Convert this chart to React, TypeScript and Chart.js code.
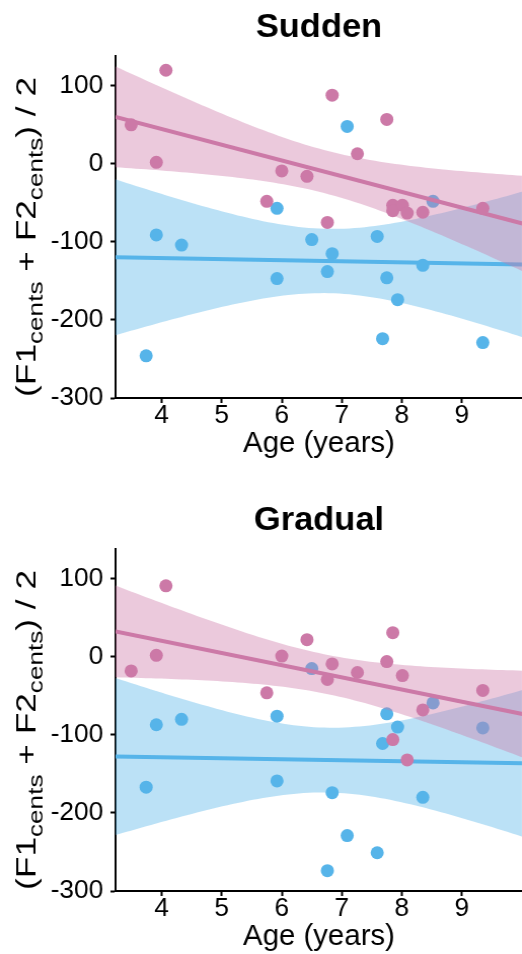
import { useEffect, useRef } from 'react';
import { Chart, registerables } from 'chart.js';

Chart.register(...registerables);

// ---- data -------------------------------------------------------------
// Age in years and (F1 + F2) / 2 shift in cents, one array per group and condition.
const suddenPinkAge = [3.49, 4.07, 3.91, 6.84, 7.75, 7.26, 6.0, 6.42, 5.75, 6.76, 7.85, 7.85, 8.01, 8.09, 8.35, 9.35];
const suddenPinkValue = [50, 120, 2, 88, 57, 13, -9, -16, -48, -75, -53, -60, -53, -63, -62, -57];
const suddenBlueAge = [7.09, 5.92, 8.52, 3.91, 4.33, 6.5, 7.59, 6.84, 6.76, 5.92, 7.75, 8.35, 7.93, 7.68, 9.35, 3.74];
const suddenBlueValue = [48, -57, -48, -91, -104, -97, -93, -115, -138, -147, -146, -130, -174, -224, -229, -246];

const gradualPinkAge = [3.49, 4.07, 3.91, 6.42, 6.0, 6.84, 6.76, 7.26, 7.85, 7.75, 8.01, 5.75, 8.35, 9.35, 7.85, 8.09];
const gradualPinkValue = [-18, 91, 2, 22, 1, -9, -29, -20, 31, -6, -24, -46, -68, -43, -106, -132];
const gradualBlueAge = [6.5, 8.52, 5.92, 7.75, 3.91, 4.33, 7.93, 9.35, 7.68, 3.74, 5.92, 6.84, 8.35, 7.09, 7.59, 6.76];
const gradualBlueValue = [-15, -59, -76, -73, -87, -80, -90, -91, -111, -167, -159, -174, -180, -229, -251, -274];

const xTicks = [4, 5, 6, 7, 8, 9];
const yTicks = [-300, -200, -100, 0, 100];
const panelTitles = ['Sudden', 'Gradual'];

// ---- styling ------------------------------------------------------------
const PINK = '#CC79A7';
const BLUE = '#56B4E9';
const PINK_FILL = 'rgba(204,121,167,0.4)';
const BLUE_FILL = 'rgba(86,180,233,0.4)';
const FONT = '"Liberation Sans", Arial, Helvetica, sans-serif';

const X_MIN = 3.23;
const X_MAX = 10.01;
const Y_MIN = -300;
const Y_MAX = 138.5;

const W = 522;
const H = 461;
const PLOT_LEFT = 114;
const PLOT_BOTTOM = 398;

// two-sided 95% t quantile for n - 2 = 14 degrees of freedom
const T_975 = 2.1448;
const FIT_STEPS = 80;

// ordinary least squares fit with the confidence band of the mean
function linearFit(xs: number[], ys: number[]) {
  const n = xs.length;
  const mx = xs.reduce((a, b) => a + b, 0) / n;
  const my = ys.reduce((a, b) => a + b, 0) / n;
  let sxx = 0;
  let sxy = 0;
  for (let i = 0; i < n; i++) {
    sxx += (xs[i] - mx) ** 2;
    sxy += (xs[i] - mx) * (ys[i] - my);
  }
  const slope = sxy / sxx;
  const intercept = my - slope * mx;
  let sse = 0;
  for (let i = 0; i < n; i++) sse += (ys[i] - intercept - slope * xs[i]) ** 2;
  const sigma = Math.sqrt(sse / (n - 2));
  const predict = (x: number) => intercept + slope * x;
  const half = (x: number) => T_975 * sigma * Math.sqrt(1 / n + (x - mx) ** 2 / sxx);
  return { predict, half };
}

function groupDatasets(ages: number[], values: number[], color: string, fill: string, base: number) {
  const fit = linearFit(ages, values);
  const lower: { x: number; y: number }[] = [];
  const upper: { x: number; y: number }[] = [];
  for (let i = 0; i <= FIT_STEPS; i++) {
    const x = X_MIN + ((X_MAX - X_MIN) * i) / FIT_STEPS;
    lower.push({ x, y: fit.predict(x) - fit.half(x) });
    upper.push({ x, y: fit.predict(x) + fit.half(x) });
  }
  const band = { showLine: true, pointRadius: 0, borderWidth: 0, borderColor: 'transparent', tension: 0 };
  return [
    { ...band, data: lower, fill: false, order: base + 2 },
    { ...band, data: upper, fill: '-1', backgroundColor: fill, order: base + 2 },
    {
      data: [X_MIN, X_MAX].map((x) => ({ x, y: fit.predict(x) })),
      showLine: true,
      pointRadius: 0,
      borderColor: color,
      borderWidth: 4,
      order: base + 1,
    },
    {
      data: ages.map((x, i) => ({ x, y: values[i] })),
      pointRadius: 6.5,
      pointBackgroundColor: color,
      pointBorderWidth: 0,
      pointBorderColor: 'transparent',
      order: base,
    },
  ];
}

// rotated y-axis title with subscripts
const yTitlePlugin = {
  id: 'formantTitle',
  afterDraw(chart: any) {
    const { ctx, chartArea } = chart;
    const pieces = [
      { text: '(F1', sub: false },
      { text: 'cents', sub: true },
      { text: ' + F2', sub: false },
      { text: 'cents', sub: true },
      { text: ') / 2', sub: false },
    ];
    const mainFont = `27px ${FONT}`;
    const subFont = `20px ${FONT}`;
    ctx.save();
    let total = 0;
    const widths = pieces.map((p) => {
      ctx.font = p.sub ? subFont : mainFont;
      const w = ctx.measureText(p.text).width;
      total += w;
      return w;
    });
    const span = 320;
    const k = span / total;
    ctx.translate(35, (chartArea.top + chartArea.bottom) / 2 + 10);
    ctx.rotate(-Math.PI / 2);
    ctx.scale(k, 1);
    ctx.fillStyle = '#000';
    ctx.textBaseline = 'alphabetic';
    ctx.textAlign = 'left';
    let x = -total / 2;
    pieces.forEach((p, i) => {
      ctx.font = p.sub ? subFont : mainFont;
      ctx.fillText(p.text, x, p.sub ? 7 : 0);
      x += widths[i];
    });
    ctx.restore();
  },
};

function Panel(props: { title: string; top: number; pinkAge: number[]; pinkValue: number[]; blueAge: number[]; blueValue: number[] }) {
  const ref = useRef<HTMLCanvasElement>(null);
  useEffect(() => {
    const canvas = ref.current as HTMLCanvasElement;
    const datasets = [
      ...groupDatasets(props.pinkAge, props.pinkValue, PINK, PINK_FILL, 0),
      ...groupDatasets(props.blueAge, props.blueValue, BLUE, BLUE_FILL, 3),
    ];
    const axisCommon = {
      grid: { display: true, drawOnChartArea: false, drawTicks: true, tickLength: 5, tickWidth: 2, tickColor: '#000' },
      border: { display: true, color: '#000', width: 2 },
    };
    const chart = new Chart(canvas, {
      type: 'scatter',
      data: { datasets: datasets as any },
      options: {
        animation: false,
        responsive: false,
        events: [],
        layout: { padding: 0 },
        plugins: {
          legend: { display: false },
          tooltip: { enabled: false },
          filler: { drawTime: 'beforeDatasetDraw' },
          title: {
            display: true,
            text: props.title,
            fullSize: false,
            color: '#000',
            font: { family: FONT, size: 34, weight: 'bold' },
            padding: { top: 7, bottom: 8 },
          },
        } as any,
        scales: {
          x: {
            type: 'linear',
            min: X_MIN,
            max: X_MAX,
            z: 1,
            ...axisCommon,
            afterBuildTicks: (s: any) => {
              s.ticks = xTicks.map((v) => ({ value: v }));
            },
            afterFit: (s: any) => {
              s.height = H - PLOT_BOTTOM;
            },
            ticks: {
              color: '#000',
              padding: 0,
              font: { family: FONT, size: 26, lineHeight: 1 },
              callback: (v: any) => String(v),
            },
            title: {
              display: true,
              text: 'Age (years)',
              color: '#000',
              font: { family: FONT, size: 29 },
              padding: { top: 0, bottom: 0 },
            },
          },
          y: {
            type: 'linear',
            min: Y_MIN,
            max: Y_MAX,
            z: 1,
            ...axisCommon,
            afterBuildTicks: (s: any) => {
              s.ticks = yTicks.map((v) => ({ value: v }));
            },
            afterFit: (s: any) => {
              s.width = PLOT_LEFT;
            },
            ticks: {
              color: '#000',
              padding: 7,
              font: { family: FONT, size: 26 },
              callback: (v: any) => String(v),
            },
          },
        },
      } as any,
      plugins: [yTitlePlugin],
    });
    // the plot panel runs to the right edge of the page; widen the canvas by
    // whatever room the layout keeps for the last x tick label
    const spare = W - chart.chartArea.right;
    if (spare > 0.5) {
      const wide = Math.round(W + spare);
      chart.resize(wide, H);
      canvas.style.width = wide + 'px';
      canvas.style.height = H + 'px';
    }
    return () => chart.destroy();
  }, []);
  return (
    <canvas
      ref={ref}
      width={W}
      height={H}
      style={{ position: 'absolute', left: 0, top: props.top, width: W, height: H }}
    />
  );
}

export default function App() {
  return (
    <div style={{ position: 'absolute', left: 0, top: 0, width: W, height: 954, background: '#fff', overflow: 'hidden' }}>
      <Panel
        title={panelTitles[0]}
        top={0}
        pinkAge={suddenPinkAge}
        pinkValue={suddenPinkValue}
        blueAge={suddenBlueAge}
        blueValue={suddenBlueValue}
      />
      <Panel
        title={panelTitles[1]}
        top={493}
        pinkAge={gradualPinkAge}
        pinkValue={gradualPinkValue}
        blueAge={gradualBlueAge}
        blueValue={gradualBlueValue}
      />
    </div>
  );
}
